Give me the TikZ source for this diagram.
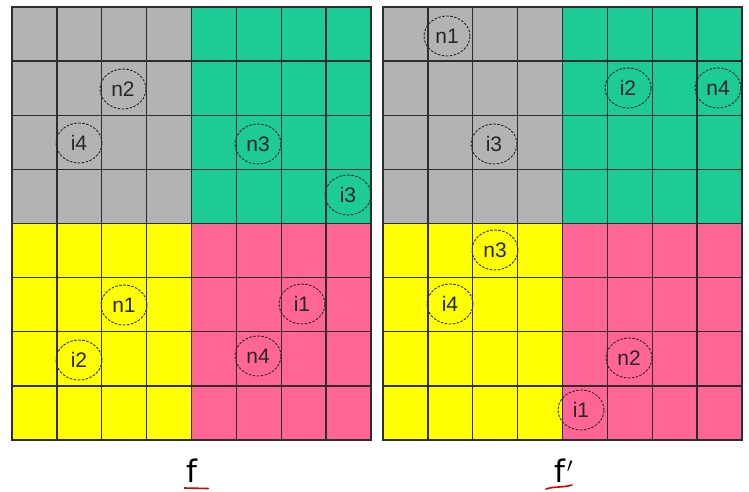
\documentclass[tikz,border=0pt]{standalone}
\usepackage{fontspec}
\setmainfont{Liberation Sans}
\newfontfamily\handfont{DejaVu Sans}
\usetikzlibrary{shapes.geometric}
\definecolor{qgray}{HTML}{B3B3B3}
\definecolor{qgreen}{HTML}{1CCB95}
\definecolor{qyellow}{HTML}{FFFF00}
\definecolor{qpink}{HTML}{FF6696}
\definecolor{gline}{HTML}{2E2E2E}
\begin{document}
\begin{tikzpicture}[x=1pt,y=-1pt,
  tok/.style={draw=black!85, dash pattern=on 2.5pt off 1.5pt, line width=0.9pt, ellipse,
    minimum width=46pt, minimum height=40pt, inner sep=0pt,
    font=\fontsize{21}{21}\selectfont, text=black!85},
  gridline/.style={draw=gline, line width=1.3pt},
  frame/.style={draw=gline, line width=2.4pt},
  flabel/.style={font=\handfont\fontsize{31}{31}\selectfont, inner sep=0pt},
  redmark/.style={draw=red!85!black, line width=1.6pt, line cap=round}]
\useasboundingbox[fill=white] (0,0) rectangle (749,491);
\def\cw{44.875}
\def\ch{54.125}
\foreach \ox in {12,383} {
  \fill[qgray]   (\ox,7) rectangle ++(179.5,216.5);
  \fill[qgreen]  (\ox+179.5,7) rectangle ++(179.5,216.5);
  \fill[qyellow] (\ox,223.5) rectangle ++(179.5,216.5);
  \fill[qpink]   (\ox+179.5,223.5) rectangle ++(179.5,216.5);
  \foreach \i in {1,...,7} {
    \draw[gridline] (\ox+\i*\cw,7) -- (\ox+\i*\cw,440);
    \draw[gridline] (\ox,7+\i*\ch) -- (\ox+359,7+\i*\ch);
  }
  \draw[frame] (\ox,7) rectangle (\ox+359,440);
}
% left grid tokens
\node[tok] (Ln2) at (123,89) {n2};
\node[tok] (Li4) at (79,143) {i4};
\node[tok] (Ln3) at (258,144) {n3};
\node[tok] (Li3) at (348,195) {i3};
\node[tok] (Ln1) at (124,305) {n1};
\node[tok] (Li1) at (302,304) {i1};
\node[tok] (Li2) at (79,360) {i2};
\node[tok] (Ln4) at (258,356) {n4};
% right grid tokens
\node[tok] (Rn1) at (447,36) {n1};
\node[tok] (Ri2) at (628,88) {i2};
\node[tok] (Rn4) at (718,88) {n4};
\node[tok] (Ri3) at (494,144) {i3};
\node[tok] (Rn3) at (495,250) {n3};
\node[tok] (Ri4) at (450,304) {i4};
\node[tok] (Rn2) at (629,358) {n2};
\node[tok] (Ri1) at (581,410) {i1};
% labels
\node[flabel, anchor=base] (fl) at (192,482) {f};
\node[flabel, anchor=base] (fpl) at (564,482) {f\kern1pt$'$};
\draw[redmark] ([yshift=-6pt]fl.base west) ++(-2,0) -- ++(24,0.5);
\draw[redmark] (546,489) .. controls (555,486) and (562,488) .. (572,485);
\end{tikzpicture}
\end{document}
